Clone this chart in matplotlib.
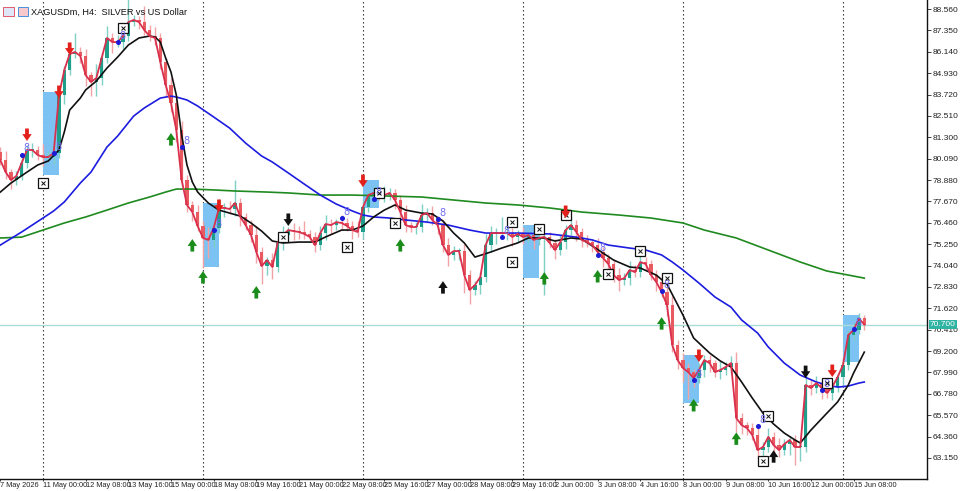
import matplotlib
matplotlib.use("Agg")
import matplotlib.pyplot as plt
from matplotlib.patches import Rectangle
import numpy as np

TITLE = "XAGUSDm, H4:  SILVER vs US Dollar"

# --- candles (H4 bars, index 0 = 7 May 16:00) -------------------------------
first_open = 80.45
close = [
    80.01, 79.33, 78.88, 79.11, 79.84, 80.58, 80.58, 80.30, 80.18, 80.18,
    80.41, 83.69, 85.11, 86.01, 86.13, 85.90, 84.82, 84.43, 84.65, 85.79,
    86.92, 86.69, 86.69, 87.03, 87.82, 87.94, 87.82, 87.37, 87.03, 86.92,
    85.56, 84.26, 83.24, 81.71, 78.88, 77.47, 77.07, 76.28, 75.60, 75.49,
    76.16, 77.30, 77.30, 77.24, 77.58, 76.79, 76.33, 75.77, 74.81, 74.01,
    74.35, 73.96, 75.32, 75.77, 76.05, 75.99, 75.94, 75.83, 75.66, 75.20,
    75.88, 76.39, 76.33, 76.50, 76.45, 76.28, 76.05, 75.94, 77.35, 78.03,
    78.15, 78.03, 78.03, 78.15, 77.75, 77.07, 76.33, 76.22, 76.22, 76.90,
    77.01, 76.62, 76.33, 75.20, 74.64, 74.86, 74.86, 73.50, 72.66, 72.94,
    73.39, 75.20, 75.88, 75.88, 75.88, 75.88, 75.66, 75.83, 75.66, 75.77,
    75.49, 75.60, 75.66, 75.32, 74.92, 75.37, 76.05, 76.33, 75.94, 75.49,
    75.37, 75.20, 74.81, 74.47, 74.13, 73.50, 73.22, 73.33, 73.79, 73.67,
    74.24, 74.13, 73.50, 73.11, 72.54, 71.81, 69.54, 68.69, 68.24, 68.01,
    67.67, 68.13, 68.69, 68.52, 68.01, 68.13, 68.30, 68.52, 65.41, 65.01,
    64.84, 64.45, 63.60, 63.77, 64.34, 63.88, 63.60, 63.94, 64.17, 63.77,
    63.77, 67.28, 67.11, 67.39, 67.11, 66.83, 67.17, 67.73, 68.41, 70.11,
    70.39, 71.05, 70.70,
]
upper_wick = [
    0.3, 0.5, 0.2, 0.3, 0.4, 0.3, 0.4, 0.2, 0.6, 0.3,
    0.9, 0.3, 0.2, 0.5, 1.1, 0.3, 0.4, 0.2, 0.8, 0.3,
    0.7, 0.3, 0.4, 0.5, 1.3, 0.3, 0.2, 0.9, 0.3, 0.5,
    0.3, 0.2, 0.4, 0.3, 0.5, 0.3, 0.2, 0.4, 0.3, 0.6,
    0.4, 0.5, 0.3, 0.4, 1.3, 0.3, 0.2, 0.3, 0.5, 0.3,
    0.2, 0.4, 0.3, 0.5, 0.2, 0.4, 0.3, 0.6, 0.2, 0.3,
    0.4, 0.5, 0.3, 0.2, 0.4, 0.3, 0.3, 0.5, 0.4, 0.3,
    0.4, 0.2, 0.5, 0.3, 0.2, 0.3, 0.4, 0.2, 0.3, 0.6,
    0.3, 0.4, 0.2, 0.3, 0.4, 0.3, 0.2, 0.4, 0.3, 0.2,
    0.3, 0.6, 0.4, 0.3, 0.9, 0.4, 0.3, 0.2, 0.4, 0.3,
    0.3, 0.4, 0.2, 0.3, 0.2, 0.4, 0.3, 0.5, 0.3, 0.2,
    0.3, 0.2, 0.4, 0.3, 0.2, 0.3, 0.4, 0.3, 0.5, 0.3,
    0.4, 0.3, 0.2, 0.3, 0.4, 0.3, 0.5, 0.3, 0.4, 0.3,
    0.2, 0.4, 0.3, 0.3, 0.2, 0.5, 0.3, 0.4, 0.6, 0.3,
    0.2, 0.3, 0.4, 0.3, 0.5, 0.3, 0.4, 0.3, 0.2, 0.3,
    0.4, 0.8, 0.3, 0.4, 0.2, 0.5, 0.3, 0.2, 0.4, 0.3,
    0.4, 0.3, 0.2,
]
lower_wick = [
    0.3, 0.4, 0.5, 0.3, 0.2, 0.3, 0.4, 0.3, 0.5, 0.3,
    0.4, 0.3, 0.5, 0.3, 0.2, 0.4, 0.6, 0.8, 0.8, 0.4,
    0.3, 0.6, 0.3, 0.4, 0.3, 0.2, 0.4, 0.3, 0.3, 0.4,
    0.4, 0.6, 0.5, 0.7, 0.3, 0.4, 0.5, 0.3, 1.7, 1.0,
    0.4, 0.3, 0.5, 0.3, 0.4, 0.5, 0.3, 0.4, 0.6, 1.0,
    0.5, 0.7, 0.3, 0.4, 0.3, 0.5, 0.4, 0.3, 0.2, 0.4,
    0.3, 0.4, 0.5, 0.3, 0.4, 0.3, 0.5, 0.3, 0.4, 0.3,
    0.5, 0.3, 0.4, 0.3, 0.5, 0.6, 0.4, 0.3, 0.4, 0.3,
    0.4, 0.3, 0.5, 0.4, 0.6, 0.3, 0.5, 1.0, 0.8, 0.3,
    0.5, 0.3, 0.4, 0.6, 0.3, 0.4, 0.5, 0.3, 0.4, 0.3,
    0.5, 0.3, 3.2, 0.3, 0.5, 0.3, 0.4, 0.3, 0.5, 0.4,
    0.3, 0.4, 0.3, 0.5, 0.3, 0.4, 0.6, 0.3, 0.4, 0.3,
    0.3, 0.4, 0.3, 0.5, 0.3, 0.6, 0.4, 0.5, 0.8, 1.5,
    0.5, 0.3, 0.4, 0.5, 0.3, 0.4, 0.3, 0.4, 0.8, 0.5,
    0.4, 0.3, 0.5, 0.4, 0.3, 0.5, 0.4, 0.3, 0.6, 1.0,
    0.8, 0.3, 0.4, 0.3, 0.6, 0.3, 0.4, 0.3, 0.5, 0.3,
    0.3, 0.2, 0.3,
]

# --- moving averages, read at sample bars ------------------------------------
fast_ma_bar = [0, 2, 5, 7, 9, 11, 12, 13, 15, 16, 18, 20, 22, 24, 26, 28, 29, 30,
               31, 32, 33, 34, 35, 36, 37, 39, 41, 43, 45, 47, 49, 51, 53, 56, 59,
               61, 64, 66, 68, 70, 72, 74, 76, 79, 81, 83, 85, 87, 89, 92, 94, 97,
               99, 102, 104, 107, 109, 111, 113, 115, 118, 120, 123, 125, 128,
               130, 133, 135, 137, 139, 141, 143, 145, 147, 149, 150, 152, 155,
               157, 159, 160, 162]
fast_ma = [78.20, 78.71, 79.33, 79.73, 79.96, 80.58, 81.60, 82.84, 83.52, 83.98,
           84.48, 85.22, 85.84, 86.52, 86.92, 87.03, 86.98, 86.69, 85.79, 84.99,
           83.69, 81.43, 79.73, 78.77, 78.20, 77.58, 77.18, 77.01, 76.84, 76.45,
           75.99, 75.43, 75.32, 75.37, 75.37, 75.66, 76.05, 76.05, 76.28, 76.79,
           77.18, 77.47, 77.18, 77.01, 76.96, 76.56, 75.88, 75.32, 74.52, 74.81,
           75.03, 75.32, 75.60, 75.60, 75.43, 75.60, 75.54, 75.15, 74.75, 74.35,
           73.96, 73.90, 73.50, 72.99, 71.24, 69.94, 69.09, 68.64, 68.30, 67.45,
           66.54, 65.69, 65.07, 64.56, 64.17, 64.00, 64.73, 65.69, 66.32, 67.28,
           67.96, 69.14]
mid_ma_bar = [0, 4, 8, 10, 12, 15, 17, 20, 22, 25, 27, 30, 32, 33, 35, 37, 40, 43,
              46, 49, 51, 54, 57, 60, 63, 66, 68, 70, 73, 76, 80, 84, 88, 91, 97,
              103, 108, 111, 114, 118, 121, 124, 126, 128, 131, 134, 137, 139,
              142, 144, 147, 150, 153, 155, 157, 159, 161, 162]
mid_ma = [75.20, 75.94, 76.73, 77.13, 77.64, 78.71, 79.33, 80.75, 81.37, 82.50,
          82.96, 83.52, 83.63, 83.58, 83.41, 83.07, 82.45, 81.82, 80.97, 80.24,
          79.90, 79.28, 78.65, 78.03, 77.52, 77.13, 76.90, 76.79, 76.73, 76.62,
          76.50, 76.33, 76.05, 75.88, 75.88, 75.83, 75.65, 75.49, 75.20, 75.03,
          74.92, 74.64, 74.24, 73.79, 73.05, 72.26, 71.69, 70.96, 70.22, 69.43,
          68.52, 67.84, 67.45, 67.28, 67.16, 67.22, 67.39, 67.45]
slow_ma_bar = [0, 4, 8, 12, 16, 20, 24, 28, 31, 33, 36, 40, 44, 50, 54, 60, 66, 72,
               79, 85, 91, 97, 103, 109, 116, 122, 128, 132, 138, 144, 150, 155,
               158, 162]
slow_ma = [75.60, 75.65, 76.05, 76.45, 76.79, 77.18, 77.58, 77.92, 78.20, 78.37,
           78.37, 78.32, 78.26, 78.20, 78.15, 78.03, 78.03, 77.98, 77.92, 77.75,
           77.58, 77.47, 77.30, 77.07, 76.90, 76.73, 76.45, 76.05, 75.60, 74.92,
           74.24, 73.73, 73.56, 73.33]

# --- weekly opening-range boxes ----------------------------------------------
zone_start = [8, 38, 68, 98, 128, 158]
zone_top = [83.86, 77.58, 78.88, 76.33, 68.98, 71.24]
zone_bottom = [79.16, 73.96, 77.30, 73.33, 66.26, 68.58]

# --- signal markers ------------------------------------------------------------
sell_bar = [5, 11, 13, 41, 68, 106, 131, 156]
sell_price = [81.09, 83.52, 85.96, 77.07, 78.48, 76.73, 68.58, 67.73]
buy_bar = [32, 36, 38, 48, 75, 102, 112, 124, 130, 138]
buy_price = [81.54, 75.54, 73.73, 72.88, 75.54, 73.67, 73.79, 71.12, 66.49, 64.60]
exit_dn_bar = [54, 151]
exit_dn_price = [76.28, 67.67]
exit_up_bar = [83, 145]
exit_up_price = [73.16, 63.59]
cross_bar = [8, 23, 53, 65, 71, 74, 96, 96, 101, 106, 114, 120, 125, 144, 143, 155]
cross_price = [78.71, 87.48, 75.66, 75.09, 78.15, 76.45, 76.50, 74.24, 76.11,
               76.90, 73.56, 74.86, 73.33, 65.52, 62.98, 67.39]
dot_bar = [4, 10, 22, 34, 40, 64, 70, 82, 94, 112, 124, 130, 142, 154, 160]
dot_price = [80.30, 80.41, 86.69, 80.75, 76.05, 76.73, 77.81, 76.67, 75.65,
             74.64, 72.60, 67.56, 64.96, 66.99, 70.45]

week_sep = [8, 38, 68, 98, 128, 158]
time_tick_bar = [0, 8, 16, 24, 32, 40, 48, 56, 64, 72, 80, 88, 96, 104, 112,
                 120, 128, 136, 144, 152, 160]
time_labels = ["7 May 2026", "11 May 00:00", "12 May 08:00", "13 May 16:00",
               "15 May 00:00", "18 May 08:00", "19 May 16:00", "21 May 00:00",
               "22 May 08:00", "25 May 16:00", "27 May 00:00", "28 May 08:00",
               "29 May 16:00", "2 Jun 00:00", "3 Jun 08:00", "4 Jun 16:00",
               "8 Jun 00:00", "9 Jun 08:00", "10 Jun 16:00", "12 Jun 00:00",
               "15 Jun 08:00"]
price_ticks = [88.560, 87.350, 86.140, 84.930, 83.720, 82.510, 81.300, 80.090,
               78.880, 77.670, 76.460, 75.250, 74.040, 72.830, 71.620, 70.410,
               69.200, 67.990, 66.780, 65.570, 64.360, 63.150]

UP, DN = "#1f9e89", "#e85a5f"
UP_W, DN_W = "#7fcfc2", "#f2a3a6"
TICK_FONT = "Liberation Sans"

fig = plt.figure(figsize=(9.6, 4.91), dpi=100)
ax = fig.add_axes([0, 12 / 491, 927 / 960, 479 / 491])

c = np.array(close)
o = np.concatenate([[first_open], c[:-1]])
x = np.arange(len(c))
hi = np.maximum(o, c) + np.array(upper_wick)
lo = np.minimum(o, c) - np.array(lower_wick)
up = c >= o

for s, t, b in zip(zone_start, zone_top, zone_bottom):
    ax.add_patch(Rectangle((s, b), 3, t - b, facecolor="#7cc3f3", edgecolor="none",
                           zorder=1))

for s in week_sep:
    ax.axvline(s, color="#222222", lw=0.8, ls=(0, (1.2, 2.4)), zorder=0.5)

ax.axhline(c[-1], color="#a9ddd6", lw=1.0, zorder=1.5)

ax.vlines(x, lo, hi, colors=np.where(up, UP_W, DN_W), lw=1.0, zorder=2)
body = np.maximum(np.abs(c - o), 0.04)
ax.bar(x, body, bottom=np.minimum(o, c), width=0.62,
       color=np.where(up, UP, DN), linewidth=0, zorder=3)

ax.plot(slow_ma_bar, slow_ma, color="#1f8a1f", lw=1.2, zorder=4)
ax.plot(mid_ma_bar, mid_ma, color="#1c1ce0", lw=1.2, zorder=4)
ax.plot(fast_ma_bar, fast_ma, color="#111111", lw=1.2, zorder=4)
ax.plot(x, c, color="#d9304e", lw=1.3, zorder=5)

arrow = dict(arrowstyle="simple,head_width=0.75,head_length=0.55,tail_width=0.3",
             mutation_scale=9, lw=0, shrinkA=0, shrinkB=0)


def draw_arrows(bars, prices, colour, rise):
    for b, p in zip(bars, prices):
        ax.annotate("", xy=(b, p), xytext=(0, -9 if rise else 9),
                    textcoords="offset points",
                    arrowprops=dict(arrow, color=colour), zorder=7)


draw_arrows(sell_bar, sell_price, "#e3201b", False)
draw_arrows(buy_bar, buy_price, "#1a8c1a", True)
draw_arrows(exit_dn_bar, exit_dn_price, "#111111", False)
draw_arrows(exit_up_bar, exit_up_price, "#111111", True)

ax.plot(cross_bar, cross_price, ls="none", marker="s", ms=6.5, mfc="white",
        mec="#111111", mew=0.9, zorder=6)
ax.plot(cross_bar, cross_price, ls="none", marker="x", ms=3.2, mec="#111111",
        mew=0.7, zorder=6.5)

ax.plot(dot_bar, dot_price, ls="none", marker="o", ms=2.6, color="#1c1cd6", zorder=6)
for b, p in zip(dot_bar, dot_price):
    ax.annotate("8", xy=(b, p), xytext=(1.5, 2.5), textcoords="offset points",
                fontsize=7, color="#6f6cf0", zorder=6)

ax.set_xlim(-0.06, 173.76)
ax.set_ylim(61.96, 89.07)

for side in ("left", "top"):
    ax.spines[side].set_visible(False)
for side in ("right", "bottom"):
    ax.spines[side].set_color("#111111")
    ax.spines[side].set_linewidth(1.0)

ax.yaxis.tick_right()
ax.set_yticks(price_ticks)
ax.set_yticklabels([f"{v:.3f}" for v in price_ticks], family=TICK_FONT)
ax.tick_params(axis="y", direction="out", length=3, width=0.6, pad=1,
               labelsize=6, colors="#222222")
ax.set_xticks(time_tick_bar)
ax.set_xticklabels(time_labels, ha="left", family=TICK_FONT)
ax.tick_params(axis="x", direction="out", length=1.5, width=0.6, pad=0.5,
               labelsize=5.3, colors="#222222")

ax.text(1.003, c[-1], f"{c[-1]:.3f}", transform=ax.get_yaxis_transform(),
        fontsize=6, family=TICK_FONT, color="white", va="center", ha="left",
        bbox=dict(boxstyle="square,pad=0.15", fc="#2fb3a3", ec="none"))

# chart window header
fig.patches.append(Rectangle((3 / 960, 1 - 16 / 491), 11 / 960, 9 / 491,
                             transform=fig.transFigure, fc="#dfe6f7",
                             ec="#e05a6a", lw=0.7))
fig.patches.append(Rectangle((18 / 960, 1 - 16 / 491), 10 / 960, 9 / 491,
                             transform=fig.transFigure, fc="#f7c9cc",
                             ec="#4a90d9", lw=0.7))
fig.text(31 / 960, 1 - 12 / 491, TITLE, fontsize=6.6, family=TICK_FONT,
         va="center", color="#111111")

fig.savefig("out.png", dpi=100)
